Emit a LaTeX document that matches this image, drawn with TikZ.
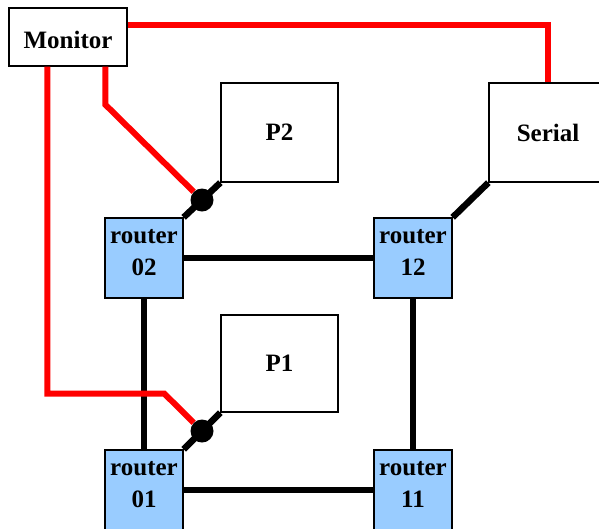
\documentclass[tikz,border=0pt]{standalone}
\usepackage{fontspec}
\setmainfont{Liberation Serif}
\usetikzlibrary{calc}
\definecolor{routerblue}{HTML}{99CCFF}
\begin{document}
\begin{tikzpicture}[x=1pt,y=-1pt,
  box/.style={draw=black, line width=1.3pt, fill=white, inner sep=0pt,
    font=\fontsize{25}{32}\selectfont\bfseries},
  router/.style={box, fill=routerblue, minimum width=78pt, minimum height=80pt,
    align=center, text depth=12pt},
  link/.style={line width=6.5pt, black},
  monline/.style={line width=6pt, red},
  dot/.style={circle, fill=black, inner sep=0pt, minimum size=23pt}]
\useasboundingbox (0,0) rectangle (599,528);
\clip (0,0) rectangle (599,528);

% boxes
\node[box, minimum width=118pt, minimum height=58pt, text height=22.5pt, text depth=0pt] (mon) at (68,37) {Monitor};
\node[box, minimum width=117pt, minimum height=99pt] (p2) at (279.5,132.5) {P2};
\node[box, minimum width=117pt, minimum height=97pt] (p1) at (279.5,363.5) {P1};
\node[box, minimum width=118pt, minimum height=99pt] (ser) at (548,132.5) {Serial};

% routers
\node[router] (r02) at (144,258) {router\\02};
\node[router] (r12) at (413,258) {router\\12};
\node[router] (r01) at (144,490) {router\\01};
\node[router] (r11) at (413,490) {router\\11};

% links between routers
\draw[link] (r02) -- (r12);
\draw[link] (r01) -- (r11);
\draw[link] (r02) -- (r01);
\draw[link] (r12) -- (r11);

% links from routers to hosts
\draw[link] (r02.north east) -- (p2.south west);
\draw[link] (r01.north east) -- (p1.south west);
\draw[link] (r12.north east) -- (ser.south west);

% monitor taps
\node[dot] (d2) at ($(r02.north east)!0.5!(p2.south west)$) {};
\node[dot] (d1) at ($(r01.north east)!0.5!(p1.south west)$) {};

\draw[monline] ($(mon.south west)+(39,0)$) -- ++(0,327) -- ++(117,0) -- (d1);
\draw[monline] ($(mon.south west)+(97,0)$) -- ++(0,38) -- (d2);
\draw[monline] ($(mon.north east)+(0,18)$) -| (ser.north);
\end{tikzpicture}
\end{document}
